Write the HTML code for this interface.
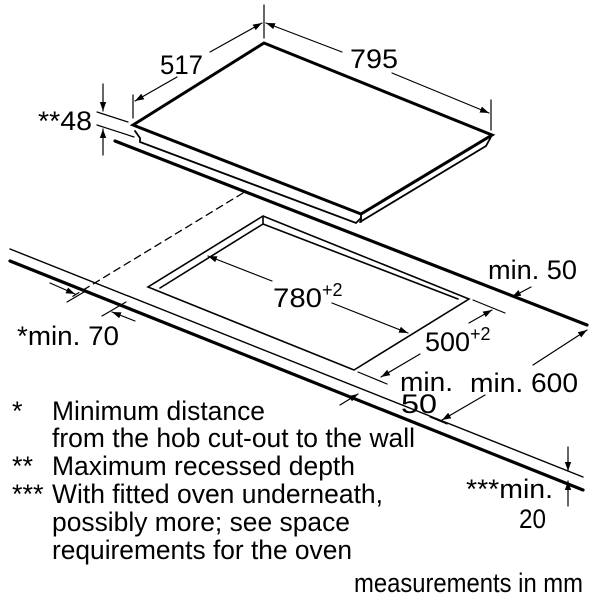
<!DOCTYPE html>
<html><head><meta charset="utf-8"><style>
html,body{margin:0;padding:0;background:#fff;}
svg{display:block;}
text{font-family:"Liberation Sans",Arial,sans-serif;fill:#000;}
</style></head><body>
<svg width="600" height="600" viewBox="0 0 600 600" xmlns="http://www.w3.org/2000/svg">
<defs>
<marker id="a" viewBox="0 0 10 10" refX="10" refY="5" markerWidth="9" markerHeight="9" orient="auto-start-reverse" markerUnits="userSpaceOnUse"><path d="M0,1.5 L10,5 L0,8.5 Z" fill="#000"/></marker>
</defs>
<g stroke="#000" fill="none" stroke-linecap="round">
<path d="M133,125 L264,43 L492,135 L361,214 Z" stroke-width="3" fill="#fff"/>
<path d="M135,131 L140,138 L140,142 L356,223 L361,218" stroke-width="1.8"/>
<path d="M361,214 L361,222 M492,135 L486,146 L360,222" stroke-width="1.8"/>
<line x1="115" y1="141" x2="587" y2="325" stroke-width="3.2"/>
<line x1="10" y1="249" x2="583" y2="477" stroke-width="1.4"/>
<line x1="10" y1="261" x2="583" y2="490" stroke-width="3.2"/>
<line x1="243" y1="193" x2="70" y2="298" stroke-width="1.3" stroke-dasharray="7,5"/>
<path d="M263,216 L148,287 L354,370 L469,299 Z" stroke-width="1.6"/>
<path d="M263,216 L263,224 L160,288 M263,224 L458,299" stroke-width="1.6"/>
<line x1="272" y1="281" x2="208" y2="256" stroke-width="1.2" marker-end="url(#a)"/>
<line x1="332" y1="303" x2="408" y2="333" stroke-width="1.2" marker-end="url(#a)"/>
<line x1="473" y1="300" x2="505" y2="313" stroke-width="1.2"/>
<line x1="358" y1="372" x2="387" y2="384" stroke-width="1.2"/>
<line x1="469" y1="323" x2="492" y2="310" stroke-width="1.2" marker-end="url(#a)"/>
<line x1="420" y1="354" x2="381" y2="377" stroke-width="1.2" marker-end="url(#a)"/>
<line x1="531" y1="287" x2="512" y2="297" stroke-width="1.2" marker-end="url(#a)"/>
<line x1="533" y1="365" x2="587" y2="330" stroke-width="1.2" marker-end="url(#a)"/>
<line x1="485" y1="395" x2="442" y2="420" stroke-width="1.2" marker-end="url(#a)"/>
<line x1="430" y1="417" x2="447" y2="424" stroke-width="1.2"/>
<line x1="340" y1="405" x2="358" y2="394" stroke-width="1.2" marker-end="url(#a)"/>
<line x1="50" y1="283" x2="75" y2="294" stroke-width="1.2" marker-end="url(#a)"/>
<line x1="67" y1="302" x2="84" y2="292" stroke-width="1.2"/>
<line x1="135" y1="321" x2="112" y2="312" stroke-width="1.2" marker-end="url(#a)"/>
<line x1="102" y1="316" x2="126" y2="302" stroke-width="1.2"/>
<line x1="103" y1="84" x2="103" y2="111" stroke-width="1.2" marker-end="url(#a)"/>
<line x1="103" y1="155" x2="103" y2="129" stroke-width="1.2" marker-end="url(#a)"/>
<line x1="97" y1="112" x2="128" y2="122" stroke-width="1.2"/>
<line x1="97" y1="125" x2="134" y2="137" stroke-width="1.2"/>
<line x1="133" y1="95" x2="133" y2="118" stroke-width="1.2"/>
<line x1="264" y1="5" x2="264" y2="38" stroke-width="1.2"/>
<line x1="491" y1="100" x2="491" y2="130" stroke-width="1.2"/>
<line x1="177" y1="77" x2="135" y2="101" stroke-width="1.2" marker-end="url(#a)"/>
<line x1="210" y1="52" x2="262" y2="23" stroke-width="1.2" marker-end="url(#a)"/>
<line x1="342" y1="52" x2="266" y2="23" stroke-width="1.2" marker-end="url(#a)"/>
<line x1="392" y1="73" x2="489" y2="113" stroke-width="1.2" marker-end="url(#a)"/>
<line x1="568" y1="447" x2="568" y2="471" stroke-width="1.2" marker-end="url(#a)"/>
<line x1="568" y1="506" x2="568" y2="481" stroke-width="1.2" marker-end="url(#a)"/>
</g>
<g font-size="27" lengthAdjust="spacingAndGlyphs">
<text x="160" y="74" textLength="43" lengthAdjust="spacingAndGlyphs">517</text>
<text x="350" y="68" textLength="48" lengthAdjust="spacingAndGlyphs">795</text>
<text x="38" y="130" textLength="54" lengthAdjust="spacingAndGlyphs">**48</text>
<text x="273" y="307"><tspan textLength="49" lengthAdjust="spacingAndGlyphs">780</tspan><tspan font-size="18" dy="-11">+2</tspan></text>
<text x="425" y="351"><tspan textLength="45" lengthAdjust="spacingAndGlyphs">500</tspan><tspan font-size="18" dy="-11">+2</tspan></text>
<text x="488" y="279" textLength="89" lengthAdjust="spacingAndGlyphs">min. 50</text>
<text x="470" y="392" textLength="108" lengthAdjust="spacingAndGlyphs">min. 600</text>
<text x="400" y="391" textLength="53" lengthAdjust="spacingAndGlyphs">min.</text>
<text x="401" y="413" textLength="36" lengthAdjust="spacingAndGlyphs">50</text>
<text x="17" y="345" textLength="102" lengthAdjust="spacingAndGlyphs">*min. 70</text>
<text x="466" y="498" textLength="87" lengthAdjust="spacingAndGlyphs">***min.</text>
<text x="519" y="528" textLength="27" lengthAdjust="spacingAndGlyphs">20</text>
<text x="12" y="420">*</text><text x="52" y="420" textLength="213" lengthAdjust="spacingAndGlyphs">Minimum distance</text>
<text x="52" y="447" textLength="363" lengthAdjust="spacingAndGlyphs">from the hob cut-out to the wall</text>
<text x="12" y="475">**</text><text x="52" y="475" textLength="303" lengthAdjust="spacingAndGlyphs">Maximum recessed depth</text>
<text x="12" y="503">***</text><text x="52" y="503" textLength="331" lengthAdjust="spacingAndGlyphs">With fitted oven underneath,</text>
<text x="52" y="531" textLength="298" lengthAdjust="spacingAndGlyphs">possibly more; see space</text>
<text x="52" y="559" textLength="300" lengthAdjust="spacingAndGlyphs">requirements for the oven</text>
<text x="354" y="592" textLength="229" lengthAdjust="spacingAndGlyphs">measurements in mm</text>
</g>
</svg>
</body></html>
